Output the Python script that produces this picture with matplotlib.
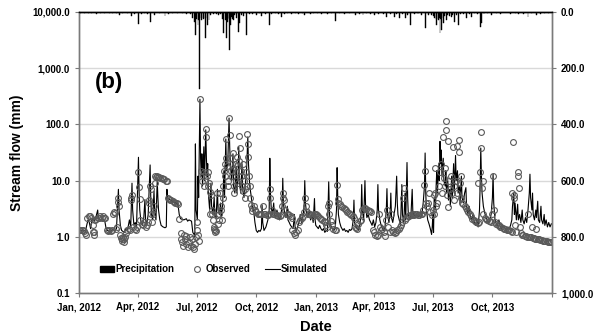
import numpy as np
import matplotlib
matplotlib.use("Agg")
import matplotlib.pyplot as plt
import matplotlib.dates as mdates
from matplotlib.lines import Line2D
from matplotlib.patches import Patch

plt.rcParams['font.family'] = ['Liberation Sans', 'DejaVu Sans']
plt.rcParams['font.weight'] = 'bold'

START = np.datetime64('2012-01-01')

# Simulated stream flow (mm): day offset from 2012-01-01, value
sim_day = [0, 8, 10, 12, 14, 16, 18, 20, 22, 24, 26, 29, 30, 34, 37, 40, 42, 44, 48, 50, 52, 56, 58,
           61, 62, 64, 66, 70, 73, 75, 78, 80, 82, 83, 85, 87, 89, 92, 93, 94, 96, 98, 100, 102, 103,
           105, 107, 110, 111, 112, 114, 116, 117, 119, 121, 122, 123,
           125, 127, 130, 133, 135, 136, 137, 140, 145, 150, 153, 155, 157, 162, 166, 168, 170, 174,
           176, 178, 179, 180, 181, 183, 184, 185, 187, 188, 189, 190, 191, 193, 194, 196, 197, 198, 199,
           200, 202, 204, 205, 207, 209, 210, 212, 214, 215, 217, 219, 220, 222, 224, 225, 227, 228,
           230, 232, 233, 234, 236, 238, 239, 241, 243, 244, 246, 247, 248, 250, 252, 253, 255, 257,
           259, 261, 262, 264, 266, 268, 270, 272, 274, 276, 278, 280,
           282, 283, 284, 286, 289, 292, 294, 295, 296, 297, 299, 301, 302, 304, 306, 308, 310, 312,
           314, 315, 316, 318, 320, 322, 323, 325, 327, 329, 331, 333, 334, 336, 338, 340, 342, 344,
           346, 348, 349, 350, 352, 354, 356, 358, 360, 362, 364, 365,
           366, 368, 370, 372, 374, 376, 378, 380, 382, 384, 386, 387, 388, 390, 392, 394, 396, 398,
           399, 400, 401, 403, 405, 408, 410, 412, 414, 416, 418, 420, 422, 424, 425, 426, 428, 430,
           432, 434, 436, 437, 438, 440, 442, 443, 445, 447, 449, 451, 453, 455, 457, 459, 461, 462,
           463, 465, 467, 469, 471, 473, 475, 476, 477, 479, 481, 482, 483, 485, 487, 489, 491, 492, 493,
           495, 497, 499, 500, 502, 504, 505, 507, 508, 509, 511, 513, 515, 516, 518, 520, 522, 524,
           526, 528, 530, 532, 534, 535, 536, 537, 539, 541, 543, 545, 546, 547, 548, 549, 551, 552,
           553, 554, 556, 557, 558, 559, 560, 561, 563, 564, 566, 567, 568, 570, 571, 573, 574, 576,
           577, 579, 580, 582, 583, 585, 586, 588, 589, 591, 592, 594, 596, 598, 599, 601, 603, 605,
           607, 609, 611, 613, 615, 617,
           619, 620, 621, 622, 623, 625, 627, 629, 631, 633, 635, 637, 639, 640, 641, 643, 645, 647,
           649, 651, 653, 655, 657, 659, 661, 663, 665, 667, 669, 670, 672, 673, 674, 676, 678, 679,
           681, 683, 685, 686, 688, 690, 692, 694, 696, 697, 698, 700, 701, 702, 704, 706, 707, 709,
           710, 712, 714, 715, 717, 719, 720, 722, 724, 726, 728, 730]
sim_val = [1.3, 1.3, 1.25, 1.6, 2.0, 1.8, 1.4, 2.0, 2.1, 1.9, 2.2, 3.0, 2.1, 2.0, 2.1, 1.9, 1.4, 1.3, 1.25, 1.3, 1.35, 1.3, 1.4,
           7.0, 3.0, 1.6, 1.3, 1.2, 1.4, 1.3, 2.0, 1.5, 9.0, 3.0, 1.6, 1.8, 1.5, 26, 6, 3, 1.8, 1.6, 2.0, 4.6, 2.0,
           1.7, 2.5, 19, 5, 2.5, 2.0, 6.5, 3, 2.0, 10, 5, 3.0,
           2.0, 1.6, 1.5, 1.45, 1.5, 7.0, 5.0, 4.6, 4.3, 4.0, 3.8, 2.5, 2.1, 2.0, 2.1, 1.9, 2.0, 1.9,
           1.2, 1.1, 1.0, 45, 3.0, 2.0, 12, 5, 280, 25, 12, 30, 8, 40, 10, 80, 25, 12, 20,
           6, 3.0, 9, 3.5, 2.5, 5, 2.4, 2.2, 7, 3, 2.5, 4, 2.3, 3.5, 15, 5, 55, 15,
           20, 130, 40, 20, 10, 30, 8, 6, 18, 6, 12, 40, 10, 6, 20, 7, 5, 8,
           15, 60, 20, 8, 5.5, 3.5, 2.9, 1.8, 1.3, 1.2, 1.3, 1.25,
           1.4, 3.7, 1.8, 1.3, 1.5, 2.0, 3.0, 25, 6, 3.5, 2.5, 4, 2.5, 2.2, 3, 2.3, 2.0, 2.5,
           3.5, 11, 4, 2.5, 2.2, 3.5, 2.0, 1.8, 1.6, 1.5, 1.4, 2.5, 1.5, 1.3, 1.5, 1.8, 2.5, 1.8,
           2.2, 3.5, 10, 4, 2.5, 2.2, 3.0, 2.0, 2.5, 1.8, 4.8, 2.0,
           1.6, 1.5, 1.4, 1.6, 1.4, 1.3, 1.4, 1.2, 1.3, 1.25, 9.5, 3, 1.8, 1.5, 1.4, 1.3, 1.4, 3.0,
           17, 5, 2.5, 1.8, 1.5, 1.3, 1.4, 1.25, 1.3, 1.2, 1.35, 1.3, 1.4, 2.0, 4.5, 1.8, 1.5, 1.4,
           1.3, 1.6, 2.5, 8.5, 3, 2.0, 10, 3.5, 2.2, 2.5, 2.0, 1.8, 1.6, 2.0, 1.5, 1.8, 3, 8.5,
           3, 2.0, 1.6, 1.4, 1.3, 1.5, 3, 7.2, 2.5, 1.8, 2.5, 6.0, 2.2, 1.8, 2.5, 3.5, 12, 4, 2.5,
           2.0, 1.6, 8.5, 2.5, 1.8, 6, 2.0, 21, 5, 2.5, 2.0, 2.3, 7, 2.8, 2.4, 2.3, 2.5, 2.3,
           2.4, 2.2, 2.5, 4, 8, 31, 6, 3, 2.0, 1.7, 1.4, 1.1, 1.5, 2.5, 1.2, 5, 3, 8,
           15, 6, 20, 10, 50, 20, 35, 12, 25, 10, 8, 15, 6, 10, 4.5, 7, 3.5, 12,
           5, 20, 6, 28, 10, 15, 6, 8, 4, 12, 5, 4, 6, 7.5, 3.5, 2.5, 3.5, 2.2,
           2.0, 2.5, 1.8, 1.6, 2.0, 1.5,
           3, 8, 38, 12, 6, 3.5, 2.7, 2.2, 2.0, 1.8, 2.0, 2.5, 5, 13, 4, 2.0, 1.7, 1.6,
           2.0, 1.5, 1.4, 1.6, 1.5, 1.4, 1.3, 1.5, 1.4, 1.6, 2.0, 3.5, 6, 2.5, 4, 2.0, 3.8, 2.0,
           2.5, 1.8, 3, 2.0, 1.7, 2.2, 1.8, 3, 6, 13, 5, 3, 6, 2.5, 2.0, 3, 2.2, 4.3,
           2.0, 1.8, 3.5, 2.0, 1.7, 2.5, 1.6, 2.0, 1.5, 1.8, 1.5, 1.7]

# Observed stream flow (mm)
obs_day = [0, 2, 4, 6, 8, 10, 11, 13, 15, 17, 19, 21, 22, 23, 24, 25, 27, 29, 31, 33, 35, 37, 39, 41,
           43, 45, 47, 49, 51, 52, 54, 56, 57, 59,
           60, 61, 62, 64, 65, 66, 67, 68, 69, 70, 71, 73, 75, 77, 79, 80, 81, 82, 84, 86, 88, 90,
           92, 93, 94, 95, 97, 99, 101, 103, 105, 107, 108, 109, 110, 111, 112, 113, 115, 116, 117,
           118, 119, 120, 122, 124, 126, 128, 130, 132, 134, 136,
           137, 139, 141, 143, 145, 147, 149, 151, 153, 155, 157, 158, 160, 161, 162, 164, 165, 166,
           168, 170, 171, 173, 175, 177, 178, 179, 181, 182, 183, 184, 185,
           187, 188, 190, 191, 193, 194, 196, 197, 198, 199, 200, 201, 202, 203, 204, 205, 206, 207,
           208, 209, 210, 211, 212, 213, 214, 215, 216, 217, 218, 219, 220, 221,
           222, 223, 224, 225, 226, 227, 228, 229, 230, 231, 232, 233, 234, 235, 236, 237, 238, 239,
           240, 241, 242, 243, 244, 245, 246, 247, 248, 249, 250, 251, 252, 253, 254, 255, 256, 257,
           258, 259, 260, 261, 262, 263, 264, 265, 266, 267, 268,
           270, 272, 274, 276, 278, 280, 282, 284, 286, 288, 290, 292, 294, 295, 296, 298, 300, 302,
           304, 306, 308, 310, 312, 314, 315, 316, 317, 319, 321, 323, 325, 327, 329, 330, 332, 334,
           336, 338, 340, 342, 344, 346, 348, 350, 351, 353, 355, 357, 359, 361, 363, 365,
           366, 368, 370, 372, 374, 376, 378, 380, 382, 384, 385, 386, 387, 389, 391, 393, 395, 397,
           399, 400, 401, 403, 405, 407, 409, 411, 413, 415, 417, 419, 421, 423, 425, 426, 428, 430,
           432, 434, 436, 438, 440, 442, 444, 446, 448, 450, 452, 454, 456, 458, 460, 462, 463, 465,
           467, 469, 471, 473, 475, 476, 478, 480, 482, 484, 486, 488,
           490, 492, 494, 496, 498, 500, 501, 502, 504, 506, 508, 510, 512, 514, 516, 518, 520, 522,
           524, 526, 528, 530, 532, 534, 535, 536, 538,
           540, 541, 543, 545, 547, 548, 549, 550, 551, 552, 554, 556, 558, 560, 561, 563, 564, 565,
           566, 567, 568, 569, 570, 571, 572, 573, 575, 576, 578, 579, 580, 582, 584, 585, 587, 588,
           589, 590, 591, 592, 594, 596, 598, 600, 602, 604, 606, 608, 610, 612, 614, 616,
           617, 619, 620, 621, 622, 623, 624, 625, 627, 629, 631, 633, 635, 637, 639, 640, 641, 643,
           645, 647, 649, 651, 653, 655, 657, 659, 661, 663, 665, 667, 669, 670, 671, 672, 673, 674,
           676, 678, 679, 680, 681, 683, 685, 687, 689, 691, 693, 694, 695, 697, 699, 700, 701, 703,
           705, 706, 707, 709, 711, 713, 715, 717, 719, 721, 723, 725, 727, 729, 730]
obs_val = [1.3, 1.3, 1.35, 1.3, 1.25, 1.15, 1.1, 2.2, 2.3, 2.3, 2.2, 1.6, 1.2, 1.1, 1.2, 2.0, 2.1, 2.2, 2.2, 2.3, 2.2, 2.3, 2.2, 2.2,
           1.3, 1.25, 1.3, 1.25, 1.3, 2.6, 2.8, 2.7, 1.4, 1.5,
           5.0, 4.2, 3.5, 1.1, 0.95, 0.85, 0.9, 1.0, 0.8, 0.9, 1.0, 1.15, 1.3, 1.4, 1.3, 5.0, 4.5, 5.5, 1.5, 1.4, 1.3, 1.5,
           14, 7.7, 4.8, 2.0, 1.7, 1.6, 1.8, 1.5, 1.6, 1.8, 4.0, 4.5, 8, 7, 2.5, 1.8, 2.5, 3.5, 9,
           12, 11.5, 12, 11.5, 11.5, 11, 11, 10.5, 10.5, 10, 10,
           5.0, 4.7, 4.5, 4.5, 4.3, 4.2, 4.0, 4.0, 3.8, 2.1, 1.15, 0.9, 0.8, 0.7, 1.1, 0.9, 0.75, 1.05,
           0.65, 0.8, 1.0, 0.7, 0.9, 0.65, 0.6, 0.75, 1.0, 1.3, 1.8, 1.1, 0.85,
           280, 15, 10, 12, 14, 8, 83, 60, 12, 8, 14, 9, 6.3, 2.6, 5.5, 3, 2.5, 2.0,
           1.5, 1.4, 1.3, 1.2, 1.25, 6, 2.4, 1.7, 2.0, 2.5, 6, 3.5, 3.0, 2.0,
           5, 8, 15, 20, 12, 55, 25, 18, 10, 8, 130, 65, 25, 15, 20, 12, 31, 8,
           6, 20, 14, 10, 26, 18, 9, 62, 22, 38, 15, 12, 8, 6.5, 20, 10, 7, 5,
           14, 8, 67, 45, 26, 12, 8, 5, 3.7, 3.3, 2.9,
           3.5, 3.0, 2.8, 2.6, 2.5, 2.5, 2.6, 3.5, 2.6, 2.5, 2.4, 2.4, 2.5, 7, 5, 3.0, 2.6, 2.5,
           2.4, 2.4, 2.3, 2.3, 2.4, 3.5, 6, 5, 4.5, 3.0, 2.6, 2.5, 2.4, 2.3, 2.2, 1.3, 1.15, 1.1,
           1.2, 1.3, 1.8, 2.0, 2.2, 2.3, 2.8, 5, 3.5, 2.8, 2.6, 2.5, 2.4, 2.3, 2.5, 2.6,
           2.5, 2.4, 2.3, 2.2, 2.1, 2.0, 1.9, 1.8, 1.6, 1.5, 3.5, 4.0, 2.6, 1.9, 1.6, 1.4, 1.3, 1.35,
           8.4, 4.8, 4.0, 3.8, 3.6, 3.4, 3.2, 3.1, 3.0, 2.8, 2.7, 2.5, 2.4, 2.3, 2.2, 1.5, 1.45, 1.4,
           1.7, 1.9, 2.0, 3.0, 3.3, 3.2, 3.1, 3.0, 2.9, 2.9, 2.8, 1.3, 1.2, 1.1, 1.05, 1.1, 2.5, 1.5,
           1.3, 1.4, 1.2, 1.05, 2.0, 3.0, 1.5, 1.2, 2.5, 1.3, 1.2, 1.15,
           1.2, 1.3, 1.4, 1.5, 1.6, 1.8, 5, 7.4, 2.0, 2.2, 2.3, 2.3, 2.4, 2.4, 2.5, 2.4, 2.5, 2.5,
           2.4, 2.4, 2.5, 2.6, 3.0, 8.5, 15, 4, 3.5,
           4, 6, 2.8, 2.4, 3.0, 5.5, 2.5, 17, 6, 3.5, 4, 8, 14, 20, 6, 60, 11, 8,
           17, 80, 115, 5.6, 51, 3.4, 10, 7, 12, 6, 40, 8, 4.5, 10, 42, 6, 32, 53,
           9, 5, 12, 4, 3.8, 3.5, 3.2, 3.0, 2.8, 2.5, 2.3, 2.1, 2.0, 1.9, 1.8, 1.75,
           9, 1.8, 14, 38, 73, 7.5, 10, 2.5, 2.2, 2.1, 2.0, 1.9, 1.9, 1.8, 2.5, 12, 3, 1.8,
           1.7, 1.6, 1.6, 1.5, 1.5, 1.45, 1.4, 1.4, 1.35, 1.3, 1.3, 1.25, 1.2, 6, 49, 5.5, 5, 1.6,
           1.2, 14, 12, 7.4, 1.5, 1.15, 1.1, 1.1, 1.05, 1.05, 1.0, 2.5, 1.0, 1.0, 0.98, 1.5, 0.95, 0.95,
           0.93, 1.4, 0.92, 0.9, 0.9, 0.88, 0.87, 0.86, 0.85, 0.84, 0.83, 0.82, 0.81, 0.8, 0.8]

# Daily precipitation (mm)
pcp_day = [3, 9, 15, 20, 27, 33, 40, 47, 52, 58, 63, 68, 75, 81, 86, 92, 96, 101, 106, 111, 117, 124,
           133, 138, 145, 152, 160, 166, 172, 176, 178, 180, 182, 184, 185, 187, 189, 190, 192, 195,
           196, 198, 201, 204, 208, 212, 216, 219, 222, 224, 226, 228, 229, 230, 232, 233, 234, 236,
           237, 239, 241, 244, 246, 248, 251, 255, 259, 263, 268, 274, 279, 282, 288, 295, 298, 304,
           309, 313, 318, 323, 329, 334, 340, 345, 349, 354, 358, 362,
           368, 375, 384, 390, 397, 403, 410, 418, 427, 433, 439, 445, 451, 457, 463, 470, 476, 481,
           487, 491, 496, 500, 504, 508, 513, 518, 524, 530, 535, 540, 545, 548, 550, 552, 553, 555,
           557, 558, 559, 560, 561, 563, 565, 568, 570, 573, 576, 578, 581, 584, 587, 590, 595, 599,
           603, 607, 612, 616, 620, 622, 626, 632, 638, 645, 652, 660, 667, 674, 680, 687, 694, 700,
           707, 713, 720, 726]
pcp_val = [3, 4, 3, 5, 6, 3, 4, 3, 5, 4, 12, 5, 4, 15, 6, 43, 8, 5, 6, 35, 10, 5,
           15, 6, 4, 5, 4, 6, 8, 20, 35, 82, 25, 46, 30, 274, 20, 30, 25, 93,
           20, 46, 30, 10, 8, 6, 12, 8, 25, 75, 30, 93, 20, 35, 135, 25, 46, 18,
           25, 30, 12, 20, 71, 40, 10, 15, 82, 8, 6, 10, 5, 15, 6, 46, 8, 5,
           7, 18, 6, 5, 8, 4, 6, 5, 12, 4, 6, 5,
           4, 6, 8, 5, 33, 5, 6, 4, 12, 6, 12, 5, 8, 12, 6, 8, 18, 7,
           18, 6, 22, 8, 22, 10, 46, 8, 6, 10, 57, 10, 12, 15, 20, 25, 46, 30,
           20, 75, 25, 64, 20, 40, 15, 28, 12, 15, 18, 10, 35, 12, 46, 8, 6, 22,
           6, 18, 5, 8, 53, 40, 8, 5, 12, 5, 6, 4, 6, 5, 6, 8, 18, 5,
           10, 6, 4, 5]

tick_dates = ['2012-01-01', '2012-04-01', '2012-07-01', '2012-10-01',
              '2013-01-01', '2013-04-01', '2013-07-01', '2013-10-01', '2014-01-01']
tick_labels = ['Jan, 2012', 'Apr, 2012', 'Jul, 2012', 'Oct, 2012',
               'Jan, 2013', 'Apr, 2013', 'Jul, 2013', 'Oct, 2013', '']
left_ticks = [0.1, 1, 10, 100, 1000, 10000]
left_labels = ['0.1', '1.0', '10.0', '100.0', '1,000.0', '10,000.0']
right_ticks = [0, 200, 400, 600, 800, 1000]
right_labels = ['0.0', '200.0', '400.0', '600.0', '800.0', '1,000.0']

sim_t = START + np.array(sim_day, dtype='timedelta64[D]')
obs_t = START + np.array(obs_day, dtype='timedelta64[D]')
pcp_t = START + np.array(pcp_day, dtype='timedelta64[D]')
tick_t = np.array(tick_dates, dtype='datetime64[D]')

fig = plt.figure(figsize=(5.98, 3.33), dpi=100)
ax = fig.add_axes([0.132, 0.12, 0.791, 0.844])

spine_c = '#7a7a7a'
ax.set_yscale('log')
ax.set_ylim(0.1, 10000)
ax.set_xlim(np.datetime64('2012-01-01'), np.datetime64('2014-01-01'))
for y in [1, 10, 100, 1000]:
    ax.axhline(y, color='#d9d9d9', lw=1.0, zorder=0)

ax.plot(sim_t, sim_val, color='black', lw=0.8, zorder=3)
ax.plot(obs_t, obs_val, linestyle='none', marker='o', markersize=4.2,
        markerfacecolor='none', markeredgecolor='#5a5a5a', markeredgewidth=0.8, zorder=4)

ax.set_yticks(left_ticks)
ax.set_yticklabels(left_labels)
ax.yaxis.set_minor_locator(matplotlib.ticker.NullLocator())
ax.set_xticks(mdates.date2num(tick_t))
ax.set_xticklabels(tick_labels)
ax.tick_params(axis='both', labelsize=7, length=3, color=spine_c, width=0.8)
for s in ax.spines.values():
    s.set_color(spine_c)
    s.set_linewidth(1.0)
ax.spines['top'].set_color('black')

ax2 = ax.twinx()
ax2.bar(pcp_t, pcp_val, width=1.4, color='black', edgecolor='black', linewidth=0.3, zorder=2)
ax2.set_ylim(1000, 0)
ax2.set_yticks(right_ticks)
ax2.set_yticklabels(right_labels)
ax2.tick_params(axis='y', labelsize=7, length=3, color=spine_c, width=0.8)
for s in ax2.spines.values():
    s.set_color(spine_c)
    s.set_linewidth(1.0)
ax2.spines['top'].set_color('black')

ax.set_ylabel('Stream flow (mm)', fontsize=10, fontweight='bold', labelpad=6)
ax.set_xlabel('Date', fontsize=10.5, fontweight='bold', labelpad=6)
ax.text(0.034, 0.73, '(b)', transform=ax.transAxes, fontsize=16, fontweight='bold')

handles = [Patch(facecolor='black', edgecolor='black'),
           Line2D([], [], linestyle='none', marker='o', markersize=4.2, markerfacecolor='none',
                  markeredgecolor='#5a5a5a', markeredgewidth=0.8),
           Line2D([], [], color='black', lw=0.8)]
ax2.legend(handles, ['Precipitation', 'Observed', 'Simulated'], loc='lower left',
           bbox_to_anchor=(0.025, 0.035), ncol=3, frameon=False,
           handlelength=1.5, handletextpad=0.1, columnspacing=1.6,
           prop={'weight': 'bold', 'size': 7})

fig.savefig('out.png', dpi=100)
